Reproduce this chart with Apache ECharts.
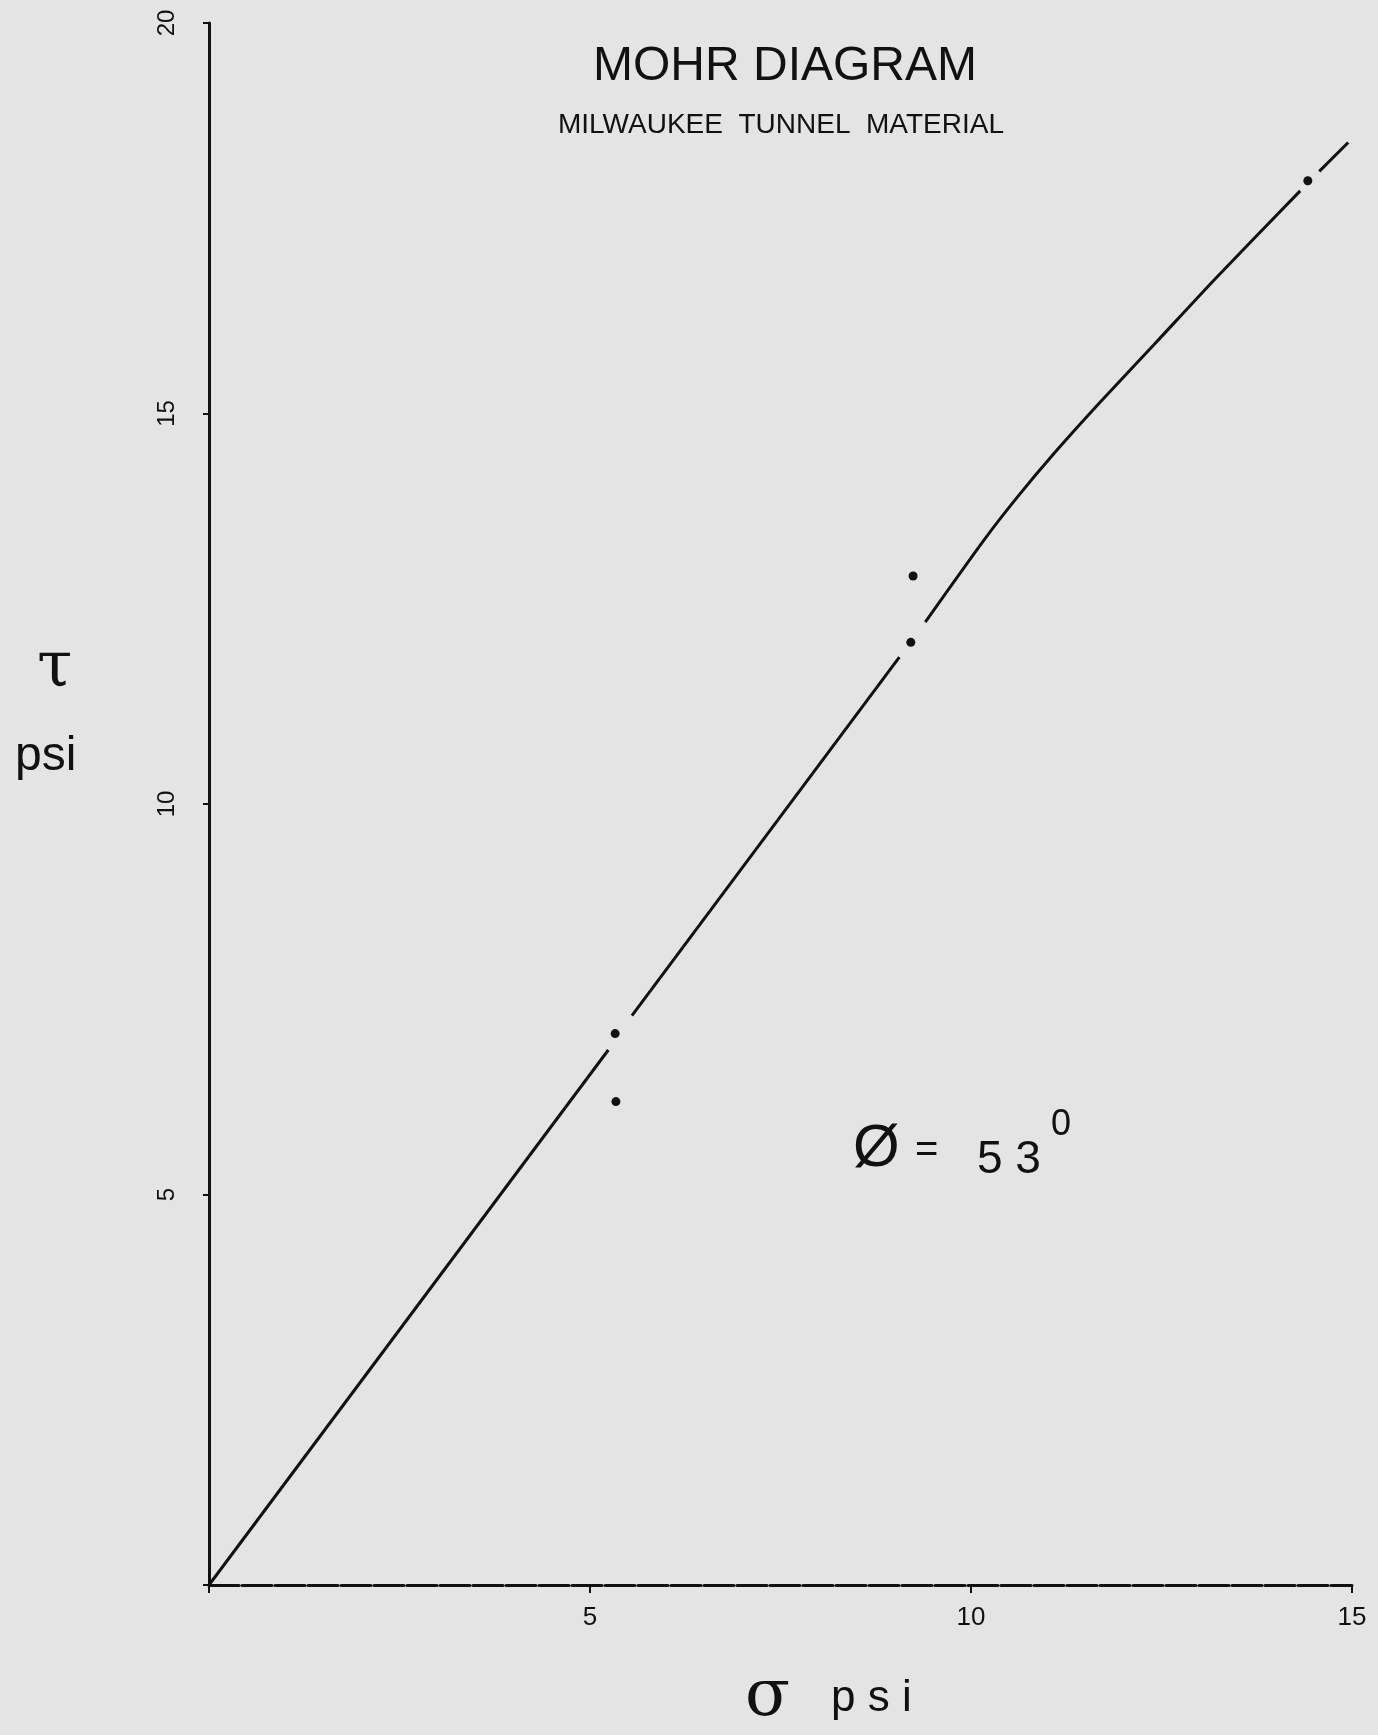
<!DOCTYPE html>
<html>
<head>
<meta charset="utf-8">
<script src="https://cdn.jsdelivr.net/npm/echarts@6/dist/echarts.min.js"></script>
<style>
html, body { margin: 0; padding: 0; background: #e4e4e4; }
#chart { width: 1378px; height: 1735px; }
</style>
</head>
<body>
<div id="chart"></div>
<script>
// tick values on each axis
var xTicks = [5, 10, 15];
var yTicks = [5, 10, 15, 20];

// failure envelope, drawn in pieces (the original pen leaves gaps at the test points)
var envelope1 = [[0, 0], [5.24, 6.85]];
var envelope2 = [[5.55, 7.29], [9.06, 11.88]];
var envelope3 = [[9.40, 12.33], [10.17, 13.38], [10.6, 13.92], [11.1, 14.5], [11.7, 15.15],
	[12.4, 15.88], [13.2, 16.72], [14.32, 17.85]];
var envelope4 = [[14.57, 18.1], [14.95, 18.47]];

// plotted test points
var testPoints = [[5.33, 7.06], [5.34, 6.19], [9.21, 12.07], [9.24, 12.92], [14.42, 17.98]];

var ink = '#111111';
var font = 'Liberation Sans';

var chart = echarts.init(document.getElementById('chart'));

var series = [];
var segs = [envelope1, envelope2, envelope3, envelope4];
for (var i = 0; i < segs.length; i++) {
	series.push({
		type : 'line',
		data : segs[i],
		smooth : 0.25,
		symbol : 'none',
		silent : true,
		lineStyle : { color : ink, width : 3 }
	});
}
series.push({
	type : 'scatter',
	data : testPoints,
	symbol : 'circle',
	symbolSize : 9,
	itemStyle : { color : ink, opacity : 1 }
});

var option = {
	backgroundColor : '#e4e4e4',
	animation : false,
	title : [ {
		text : 'MOHR DIAGRAM',
		left : 780, top : 38, textAlign : 'center',
		textStyle : { fontFamily : font, fontSize : 48, fontWeight : 'normal', color : ink }
	}, {
		text : 'MILWAUKEE  TUNNEL  MATERIAL',
		left : 776, top : 106, textAlign : 'center',
		textStyle : { fontFamily : font, fontSize : 28, fontWeight : 'normal', color : ink }
	}, {
		text : 'τ',
		left : 32, top : 632,
		textStyle : { fontFamily : 'DejaVu Serif', fontSize : 64, fontWeight : 'normal', color : ink }
	}, {
		text : 'psi',
		left : 10, top : 728,
		textStyle : { fontFamily : font, fontSize : 48, fontWeight : 'normal', color : ink }
	}, {
		text : 'σ',
		left : 740, top : 1660,
		textStyle : { fontFamily : 'DejaVu Serif', fontSize : 66, fontWeight : 'normal', color : ink }
	}, {
		text : 'p s i',
		left : 826, top : 1672,
		textStyle : { fontFamily : font, fontSize : 44, fontWeight : 'normal', color : ink }
	}, {
		text : 'Ø',
		left : 848, top : 1114,
		textStyle : { fontFamily : font, fontSize : 60, fontWeight : 'normal', color : ink }
	}, {
		text : '=',
		left : 910, top : 1126,
		textStyle : { fontFamily : font, fontSize : 40, fontWeight : 'normal', color : ink }
	}, {
		text : '5 3',
		left : 972, top : 1132,
		textStyle : { fontFamily : font, fontSize : 46, fontWeight : 'normal', color : ink }
	}, {
		text : '0',
		left : 1046, top : 1102,
		textStyle : { fontFamily : font, fontSize : 36, fontWeight : 'normal', color : ink }
	} ],
	grid : { left : 209, right : 26, top : 23, bottom : 150, containLabel : false },
	xAxis : {
		type : 'value',
		min : 0, max : 15, interval : 5,
		axisLine : { lineStyle : { color : ink, width : 3, type : [30, 3] } },
		axisTick : { show : true, length : 8, lineStyle : { color : ink, width : 2 } },
		splitLine : { show : false },
		axisLabel : {
			margin : 20, fontFamily : font, fontSize : 26, color : ink,
			formatter : function(v) { return xTicks.indexOf(v) >= 0 ? String(v) : ''; }
		}
	},
	yAxis : {
		type : 'value',
		min : 0, max : 20, interval : 5,
		axisLine : { lineStyle : { color : ink, width : 3 } },
		axisTick : { show : true, length : 6, lineStyle : { color : ink, width : 2 } },
		splitLine : { show : false },
		axisLabel : {
			margin : 30, rotate : 90, fontFamily : font, fontSize : 24, color : ink,
			formatter : function(v) { return yTicks.indexOf(v) >= 0 ? String(v) : ''; }
		}
	},
	series : series
};
chart.setOption(option);
</script>
</body>
</html>
